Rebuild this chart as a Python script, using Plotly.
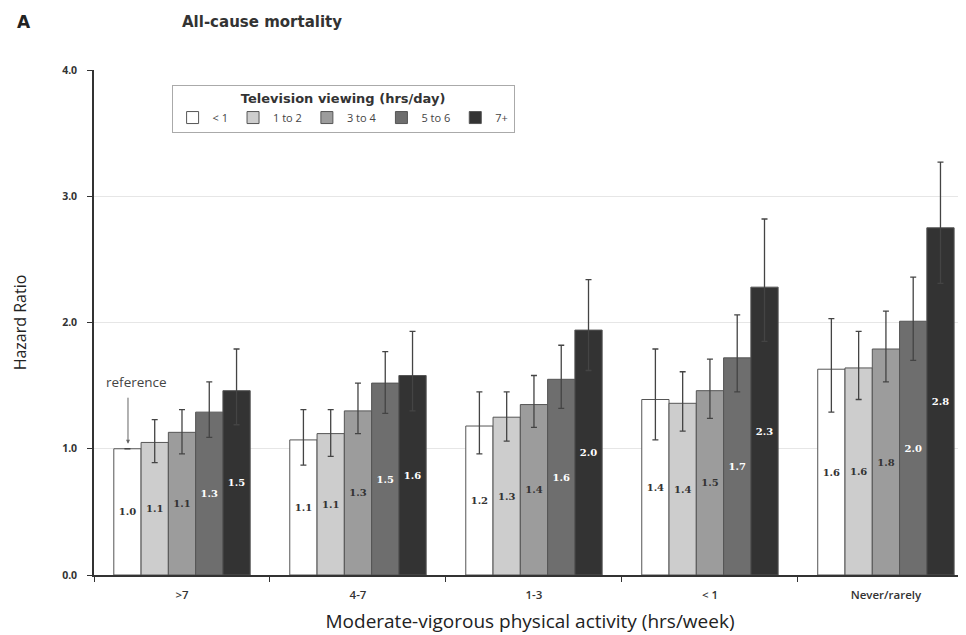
import plotly.graph_objects as go

# ---- data ----
activity = [">7", "4-7", "1-3", "< 1", "Never/rarely"]
tv_levels = ["< 1", "1 to 2", "3 to 4", "5 to 6", "7+"]

hr_tv_lt1 = [1.00, 1.07, 1.18, 1.39, 1.63]
hr_tv_1to2 = [1.05, 1.12, 1.25, 1.36, 1.64]
hr_tv_3to4 = [1.13, 1.30, 1.35, 1.46, 1.79]
hr_tv_5to6 = [1.29, 1.52, 1.55, 1.72, 2.01]
hr_tv_7plus = [1.46, 1.58, 1.94, 2.28, 2.75]

ci_hi_lt1 = [None, 1.31, 1.45, 1.79, 2.03]
ci_hi_1to2 = [1.23, 1.31, 1.45, 1.61, 1.93]
ci_hi_3to4 = [1.31, 1.52, 1.58, 1.71, 2.09]
ci_hi_5to6 = [1.53, 1.77, 1.82, 2.06, 2.36]
ci_hi_7plus = [1.79, 1.93, 2.34, 2.82, 3.27]

ci_lo_lt1 = [None, 0.87, 0.96, 1.07, 1.29]
ci_lo_1to2 = [0.89, 0.94, 1.06, 1.14, 1.39]
ci_lo_3to4 = [0.96, 1.12, 1.17, 1.24, 1.53]
ci_lo_5to6 = [1.09, 1.28, 1.32, 1.45, 1.70]
ci_lo_7plus = [1.19, 1.30, 1.62, 1.85, 2.31]

lbl_lt1 = ["1.0", "1.1", "1.2", "1.4", "1.6"]
lbl_1to2 = ["1.1", "1.1", "1.3", "1.4", "1.6"]
lbl_3to4 = ["1.1", "1.3", "1.4", "1.5", "1.8"]
lbl_5to6 = ["1.3", "1.5", "1.6", "1.7", "2.0"]
lbl_7plus = ["1.5", "1.6", "2.0", "2.3", "2.8"]

y_ticks = [0, 1, 2, 3, 4]
y_tick_text = ["0.0", "1.0", "2.0", "3.0", "4.0"]

# ---- styles ----
fills = ["#ffffff", "#cdcdcd", "#9c9c9c", "#6e6e6e", "#333333"]
text_colors = ["#333333", "#333333", "#333333", "#ffffff", "#ffffff"]

series = [
    (hr_tv_lt1, ci_hi_lt1, ci_lo_lt1, lbl_lt1),
    (hr_tv_1to2, ci_hi_1to2, ci_lo_1to2, lbl_1to2),
    (hr_tv_3to4, ci_hi_3to4, ci_lo_3to4, lbl_3to4),
    (hr_tv_5to6, ci_hi_5to6, ci_lo_5to6, lbl_5to6),
    (hr_tv_7plus, ci_hi_7plus, ci_lo_7plus, lbl_7plus),
]

FONT = "Open Sans"
BOLDF = "DejaVu Sans"

fig = go.Figure()
for i, (vals, hi, lo, lbl) in enumerate(series):
    plus = [(h - v) if h is not None else None for h, v in zip(hi, vals)]
    minus = [(v - l) if l is not None else None for l, v in zip(lo, vals)]
    fig.add_trace(go.Bar(
        name=tv_levels[i],
        x=activity,
        y=vals,
        text=lbl,
        textposition="inside",
        insidetextanchor="middle",
        textangle=0,
        constraintext="none",
        textfont=dict(family="DejaVu Serif", size=10, color=text_colors[i], weight="bold"),
        marker=dict(color=fills[i], line=dict(color="#555555", width=1)),
        error_y=dict(type="data", symmetric=False, array=plus, arrayminus=minus,
                     color="#444444", thickness=1.3, width=3),
        hoverinfo="skip",
    ))

# reference arrow and its label
fig.add_annotation(
    x=0, y=1.04, xref="x", yref="y", xshift=-54,
    text=" ", showarrow=True, arrowhead=2, arrowsize=0.8,
    arrowwidth=1, arrowcolor="#666666", ax=0, ay=-50,
    font=dict(family=FONT, size=4, color="#444444"),
)
fig.add_annotation(
    x=0, y=1.53, xref="x", yref="y", xshift=-45,
    text="reference", showarrow=False,
    font=dict(family=FONT, size=13.5, color="#444444"),
)

fig.add_annotation(x=-0.0906, y=1.095, xref="paper", yref="paper", xanchor="left", yanchor="middle",
                   text="<b>A</b>", showarrow=False,
                   font=dict(family=BOLDF, size=17, color="#222222"))
fig.add_annotation(x=0.0986, y=1.095, xref="paper", yref="paper", xanchor="left", yanchor="middle",
                   text="<b>All-cause mortality</b>", showarrow=False,
                   font=dict(family=BOLDF, size=15, color="#333333"))

fig.update_layout(
    width=958, height=627,
    paper_bgcolor="white", plot_bgcolor="white",
    margin=dict(l=86, r=0, t=62, b=60),
    barmode="group", bargap=0.225, bargroupgap=0,
    font=dict(family=FONT, color="#333333"),
    showlegend=True,
    legend=dict(
        orientation="h", x=0.089, y=0.97, xanchor="left", yanchor="top",
        bordercolor="#aaaaaa", borderwidth=1, bgcolor="white",
        title=dict(text="<b>Television viewing (hrs/day)</b>", side="top center",
                   font=dict(family=BOLDF, size=13, color="#333333")),
        font=dict(family=FONT, size=11, color="#444444"),
        itemwidth=30,
        tracegroupgap=0,
        traceorder="normal",
    ),
    xaxis=dict(
        range=[-0.5, 4.455], showline=True, linecolor="#333333", linewidth=1.5,
        ticks="outside", tickson="boundaries", ticklen=5, tickcolor="#333333",
        ticklabelstandoff=8,
        tickfont=dict(family=FONT, size=11.5, color="#333333", weight=600),
        title=dict(text="Moderate-vigorous physical activity (hrs/week)", standoff=14,
                   font=dict(family=FONT, size=19, color="#222222")),
        showgrid=False, zeroline=False,
    ),
    yaxis=dict(
        range=[0, 4], tickvals=y_ticks, ticktext=y_tick_text,
        showline=True, linecolor="#333333", linewidth=1.5,
        ticks="outside", ticklen=5, tickcolor="#333333",
        ticklabelstandoff=8,
        tickfont=dict(family=FONT, size=10.5, color="#333333", weight="bold"),
        showgrid=True, gridcolor="#e6e6e6", gridwidth=1, zeroline=False,
        title=dict(text="Hazard Ratio", standoff=32,
                   font=dict(family=FONT, size=16, color="#222222")),
    ),
)

fig.write_html("out.html")
